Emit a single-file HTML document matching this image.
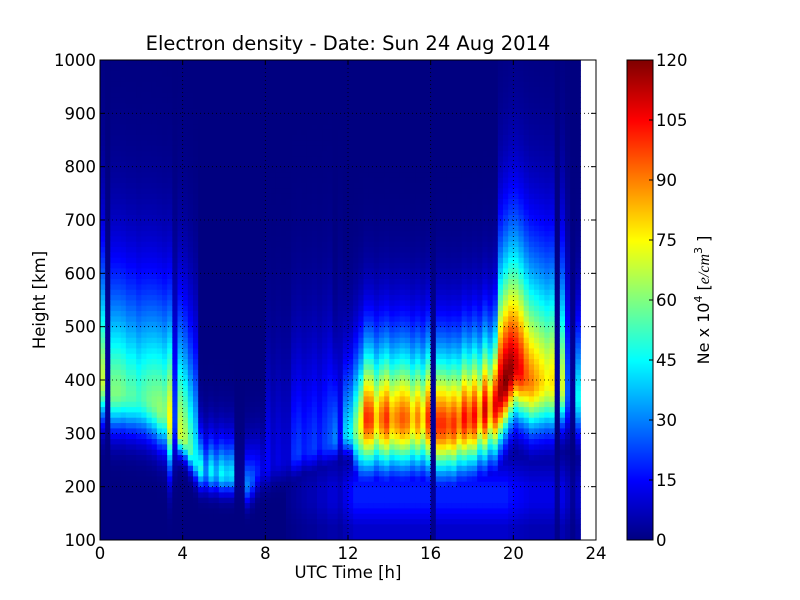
<!DOCTYPE html>
<html><head><meta charset="utf-8"><style>
body{margin:0;background:#fff;width:800px;height:600px;overflow:hidden}
svg{display:block;font-family:"DejaVu Sans","Liberation Sans",sans-serif}
</style></head><body>
<svg id="fig" width="800" height="600" xmlns="http://www.w3.org/2000/svg">
<rect width="800" height="600" fill="#fff"/>
<text x="348" y="50" font-size="19.5" text-anchor="middle">Electron density - Date: Sun 24 Aug 2014</text>
<g id="heat"></g>
<g id="grid"></g>
<rect x="100" y="60" width="496" height="480" fill="none" stroke="#000" stroke-width="1"/>
<g id="axes"></g>
<text x="348" y="578" font-size="16.5" text-anchor="middle">UTC Time [h]</text>
<text transform="translate(45,300) rotate(-90)" font-size="16.5" text-anchor="middle">Height [km]</text>
<g id="cbar"></g>
<text transform="translate(709,300) rotate(-90)" font-size="16" text-anchor="middle">Ne x 10<tspan dy="-7" font-size="11">4</tspan><tspan dy="7">  [</tspan><tspan font-style="italic" font-family="Liberation Serif, serif">e/cm</tspan><tspan dy="-7" font-size="11">3</tspan><tspan dy="7"> ]</tspan></text>
</svg>
<script>
// one column every 0.25 h, starting at 0 h
const times = [];
for (let i = 0; i < 93; i++) times.push(i * 0.25);
const peakNe = [68,4,60,60,58,55,55,52,55,58,60,62,60,75,22,70,65,55,45,48,30,45,35,45,40,42,2,2,30,25,18,12,15,10,12,10,10,20,22,18,20,22,18,22,25,30,15,40,45,60,75,100,98,80,92,100,85,90,95,92,80,90,78,100,3,100,100,95,100,90,105,95,105,85,110,85,108,115,120,118,110,105,95,90,85,80,75,78,3,70,25,3,45];
const peakH = [400,380,380,380,380,375,375,370,370,365,360,350,345,330,330,300,290,270,250,235,230,230,228,226,225,225,220,220,205,215,230,235,240,245,250,250,255,260,265,270,270,275,280,280,285,290,295,300,300,310,320,330,330,330,330,330,330,330,330,330,330,330,330,330,330,320,320,320,320,325,330,330,335,340,345,350,355,380,400,420,430,420,410,400,400,400,400,400,400,390,380,380,370];
const lowNe = [0,0,0,0,0,0,0,0,0,0,0,0,0,0,0,0,0,0,0,0,0,0,0,0,0,0,0,0,0,0,0,0,0,0,0,0,2,3,4,5,6,6,8,8,10,10,8,12,15,18,18,18,18,18,18,18,18,18,18,18,18,18,18,18,3,18,18,18,18,18,18,18,18,18,18,18,18,18,18,16,15,14,13,12,12,12,12,12,3,12,8,3,8];
const xTicks = [0,4,8,12,16,20,24];
const yTicks = [100,200,300,400,500,600,700,800,900,1000];
const cTicks = [0,15,30,45,60,75,90,105,120];

const NS = 'http://www.w3.org/2000/svg';
const X0 = 100, X1 = 596, Y0 = 540, Y1 = 60;
const xScale = t => X0 + (t / 24) * (X1 - X0);
const yScale = h => Y0 - (h - 100) / 900 * (Y0 - Y1);
function jet(v) {
  const t = Math.max(0, Math.min(1, v / 120));
  const r = Math.max(0, Math.min(1, 1.5 - Math.abs(4 * t - 3)));
  const g = Math.max(0, Math.min(1, 1.5 - Math.abs(4 * t - 2)));
  const b = Math.max(0, Math.min(1, 1.5 - Math.abs(4 * t - 1)));
  return `rgb(${Math.round(r*255)},${Math.round(g*255)},${Math.round(b*255)})`;
}
function mk(tag, attrs, parent) {
  const e = document.createElementNS(NS, tag);
  for (const k in attrs) e.setAttribute(k, attrs[k]);
  parent.appendChild(e);
  return e;
}
function profile(i, h) {
  const nm = peakNe[i], hm = peakH[i];
  let f;
  if (h >= hm) {
    let W;
    if (hm < 240) W = 65;
    else if (nm < 30) W = 200;
    else if (hm >= 375 && nm >= 70 && i > 40) W = 210;
    else if (i > 40) W = 135;
    else W = 200;
    f = nm * Math.exp(-Math.pow((h - hm) / W, 1.5));
  } else {
    const Hb = hm > 300 ? (nm > 70 ? 90 : 70) : 35;
    f = nm * Math.exp(-Math.pow((hm - h) / Hb, 2));
  }
  let low = 0;
  if (h < 280) {
    const taper = h < 200 ? 1 : Math.max(0, 1 - (h - 200) / 80);
    low = lowNe[i] * Math.min(1, Math.max(0.5, (h - 80) / 90)) * taper;
  }
  return Math.max(f, low);
}
const heat = document.getElementById('heat');
const dh = 10;
for (let i = 0; i < times.length; i++) {
  const xa = xScale(times[i]), xb = xScale(times[i] + 0.25);
  for (let h = 100; h < 1000; h += dh) {
    const v = profile(i, h + dh / 2);
    const r = mk('rect', {x: xa.toFixed(2), y: yScale(h + dh).toFixed(2), width: (xb - xa + 0.4).toFixed(2), height: (yScale(h) - yScale(h + dh) + 0.4).toFixed(2), fill: jet(v)}, heat);
    
    
  }
}
const grid = document.getElementById('grid');
xTicks.slice(1, -1).forEach(t => {
  const l = mk('line', {x1: xScale(t), x2: xScale(t), y1: Y1, y2: Y0, stroke: '#000', 'stroke-width': 0.8, 'stroke-dasharray': '1,3'}, grid);
  
  
});
yTicks.slice(1, -1).forEach(v => {
  const l = mk('line', {x1: X0, x2: X1, y1: yScale(v), y2: yScale(v), stroke: '#000', 'stroke-width': 0.8, 'stroke-dasharray': '1,3'}, grid);
  
  
});
const axes = document.getElementById('axes');
xTicks.forEach(t => {
  const x = xScale(t);
  mk('line', {x1: x, x2: x, y1: Y0, y2: Y0 - 5, stroke: '#000'}, axes);
  mk('line', {x1: x, x2: x, y1: Y1, y2: Y1 + 5, stroke: '#000'}, axes);
  const tx = mk('text', {x: x, y: Y0 + 19, 'font-size': 16.5, 'text-anchor': 'middle'}, axes);
  tx.textContent = t;
  
  
});
yTicks.forEach(v => {
  const y = yScale(v);
  mk('line', {x1: X0, x2: X0 + 5, y1: y, y2: y, stroke: '#000'}, axes);
  mk('line', {x1: X1, x2: X1 - 5, y1: y, y2: y, stroke: '#000'}, axes);
  const tx = mk('text', {x: X0 - 4, y: y + 6, 'font-size': 16.5, 'text-anchor': 'end'}, axes);
  tx.textContent = v;
  
  
});
const cb = document.getElementById('cbar');
const CX = 627, CW = 26;
for (let k = 0; k < 240; k++) {
  const v0 = k * 0.5;
  const yA = Y0 - (v0 + 0.5) / 120 * 480, yB = Y0 - v0 / 120 * 480;
  mk('rect', {x: CX, y: yA, width: CW, height: yB - yA + 0.5, fill: jet(v0 + 0.25)}, cb);
}
mk('rect', {x: CX, y: Y1, width: CW, height: 480, fill: 'none', stroke: '#000'}, cb);
cTicks.forEach(v => {
  const y = Y0 - v / 120 * 480;
  mk('line', {x1: CX + CW, x2: CX + CW - 4, y1: y, y2: y, stroke: '#000'}, cb);
  const tx = mk('text', {x: CX + CW + 3, y: y + 6, 'font-size': 16.5}, cb);
  tx.textContent = v;
  
  
});
</script>
</body></html>
